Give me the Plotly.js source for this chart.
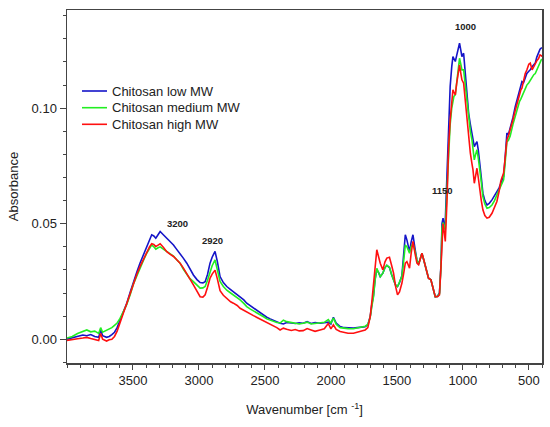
<!DOCTYPE html>
<html>
<head>
<meta charset="utf-8">
<script src="https://cdn.plot.ly/plotly-3.0.1.min.js"></script>
<style>html,body{margin:0;padding:0;background:#fff;}#chart{width:550px;height:427px;}</style>
</head>
<body>
<div id="chart"></div>
<script>
const wavenumber = [4000,3960,3920,3880,3850,3820,3790,3760,3745,3730,3700,3680,3660,3640,3620,3598,3570,3547,3520,3497,3470,3447,3420,3396,3375,3358,3342,3327,3310,3294,3270,3244,3220,3193,3170,3143,3120,3092,3070,3042,3015,2991,2970,2953,2935,2916,2900,2878,2860,2840,2815,2789,2760,2739,2710,2688,2660,2638,2610,2587,2560,2536,2510,2486,2460,2436,2410,2385,2360,2335,2300,2270,2240,2210,2180,2150,2120,2082,2050,2020,2000,1981,1960,1930,1900,1870,1829,1800,1770,1740,1720,1702,1690,1677,1665,1652,1640,1626,1606,1590,1576,1556,1540,1525,1510,1495,1480,1462,1450,1436,1424,1414,1404,1392,1378,1362,1348,1335,1322,1310,1297,1285,1272,1260,1242,1225,1209,1192,1177,1165,1158,1150,1140,1133,1120,1108,1096,1084,1075,1068,1057,1046,1035,1025,1015,1007,994,985,974,965,956,943,931,923,913,903,893,883,873,860,848,833,817,800,779,760,742,725,712,700,691,680,666,655,641,620,603,585,570,560,552,540,527,515,500,489,475,462,451,440,426,415,406,400];

const lowMW = [0.0000,0.0005,0.0010,0.0018,0.0015,0.0020,0.0012,0.0008,0.0040,0.0015,0.0008,0.0012,0.0020,0.0030,0.0050,0.0083,0.0120,0.0156,0.0205,0.0249,0.0292,0.0329,0.0368,0.0401,0.0430,0.0452,0.0447,0.0437,0.0452,0.0466,0.0452,0.0437,0.0422,0.0408,0.0390,0.0372,0.0352,0.0329,0.0305,0.0278,0.0258,0.0245,0.0244,0.0249,0.0280,0.0329,0.0355,0.0380,0.0335,0.0271,0.0245,0.0228,0.0215,0.0206,0.0195,0.0184,0.0170,0.0156,0.0145,0.0134,0.0123,0.0113,0.0104,0.0095,0.0088,0.0081,0.0075,0.0069,0.0066,0.0072,0.0070,0.0068,0.0071,0.0069,0.0076,0.0068,0.0072,0.0069,0.0071,0.0074,0.0066,0.0095,0.0070,0.0055,0.0050,0.0049,0.0048,0.0050,0.0052,0.0054,0.0062,0.0098,0.0150,0.0190,0.0260,0.0300,0.0290,0.0271,0.0286,0.0310,0.0320,0.0310,0.0280,0.0255,0.0235,0.0228,0.0245,0.0275,0.0345,0.0452,0.0430,0.0400,0.0379,0.0420,0.0452,0.0390,0.0343,0.0325,0.0350,0.0372,0.0345,0.0314,0.0285,0.0264,0.0257,0.0220,0.0184,0.0186,0.0200,0.0330,0.0500,0.0524,0.0490,0.0510,0.0700,0.0949,0.1094,0.1180,0.1223,0.1215,0.1202,0.1230,0.1260,0.1281,0.1250,0.1223,0.1238,0.1180,0.1094,0.1030,0.0978,0.0930,0.0892,0.0870,0.0834,0.0845,0.0855,0.0820,0.0776,0.0700,0.0632,0.0600,0.0581,0.0588,0.0603,0.0620,0.0639,0.0655,0.0675,0.0690,0.0704,0.0780,0.0892,0.0885,0.0913,0.0960,0.1007,0.1045,0.1072,0.1100,0.1115,0.1110,0.1130,0.1150,0.1160,0.1166,0.1180,0.1190,0.1195,0.1220,0.1245,0.1255,0.1260,0.1262];

const mediumMW = [0.0005,0.0012,0.0025,0.0035,0.0040,0.0032,0.0035,0.0025,0.0050,0.0030,0.0038,0.0045,0.0050,0.0060,0.0070,0.0090,0.0120,0.0150,0.0195,0.0238,0.0275,0.0310,0.0342,0.0372,0.0393,0.0408,0.0400,0.0390,0.0396,0.0400,0.0390,0.0379,0.0370,0.0360,0.0345,0.0329,0.0305,0.0278,0.0263,0.0249,0.0232,0.0221,0.0222,0.0228,0.0255,0.0293,0.0318,0.0343,0.0300,0.0250,0.0228,0.0212,0.0200,0.0192,0.0180,0.0170,0.0155,0.0141,0.0130,0.0123,0.0113,0.0105,0.0097,0.0088,0.0082,0.0076,0.0072,0.0070,0.0082,0.0076,0.0072,0.0070,0.0066,0.0069,0.0074,0.0066,0.0068,0.0069,0.0073,0.0085,0.0070,0.0091,0.0065,0.0050,0.0047,0.0046,0.0045,0.0048,0.0052,0.0056,0.0064,0.0095,0.0140,0.0184,0.0255,0.0307,0.0290,0.0271,0.0286,0.0310,0.0320,0.0312,0.0280,0.0255,0.0235,0.0228,0.0245,0.0271,0.0330,0.0408,0.0400,0.0385,0.0372,0.0400,0.0416,0.0380,0.0343,0.0325,0.0350,0.0372,0.0345,0.0314,0.0285,0.0264,0.0257,0.0220,0.0184,0.0186,0.0196,0.0320,0.0480,0.0505,0.0480,0.0473,0.0650,0.0800,0.0930,0.1000,0.1036,0.1050,0.1058,0.1120,0.1180,0.1216,0.1190,0.1166,0.1166,0.1120,0.1050,0.0995,0.0949,0.0900,0.0863,0.0830,0.0776,0.0800,0.0820,0.0785,0.0747,0.0680,0.0617,0.0585,0.0567,0.0570,0.0581,0.0600,0.0625,0.0645,0.0661,0.0675,0.0690,0.0760,0.0855,0.0860,0.0880,0.0930,0.0965,0.1000,0.1030,0.1040,0.1050,0.1065,0.1085,0.1100,0.1110,0.1120,0.1135,0.1145,0.1150,0.1165,0.1190,0.1200,0.1209,0.1212];

const highMW = [-0.0005,-0.0003,0.0002,0.0005,0.0008,0.0003,0.0000,-0.0006,0.0025,0.0000,-0.0008,-0.0002,0.0000,0.0012,0.0035,0.0075,0.0118,0.0155,0.0200,0.0245,0.0282,0.0314,0.0348,0.0379,0.0400,0.0413,0.0410,0.0401,0.0408,0.0413,0.0398,0.0379,0.0368,0.0358,0.0345,0.0329,0.0310,0.0286,0.0262,0.0235,0.0205,0.0184,0.0182,0.0192,0.0225,0.0264,0.0282,0.0299,0.0260,0.0210,0.0190,0.0175,0.0162,0.0156,0.0146,0.0134,0.0126,0.0120,0.0110,0.0102,0.0094,0.0087,0.0080,0.0074,0.0066,0.0058,0.0050,0.0040,0.0048,0.0043,0.0038,0.0042,0.0036,0.0037,0.0046,0.0040,0.0034,0.0040,0.0045,0.0068,0.0045,0.0062,0.0042,0.0033,0.0028,0.0026,0.0026,0.0030,0.0036,0.0040,0.0050,0.0098,0.0160,0.0228,0.0320,0.0387,0.0360,0.0329,0.0300,0.0335,0.0351,0.0355,0.0320,0.0286,0.0230,0.0192,0.0205,0.0242,0.0280,0.0329,0.0336,0.0320,0.0307,0.0370,0.0423,0.0370,0.0329,0.0322,0.0350,0.0372,0.0345,0.0314,0.0285,0.0264,0.0257,0.0220,0.0184,0.0184,0.0192,0.0320,0.0430,0.0500,0.0460,0.0423,0.0600,0.0830,0.0949,0.1030,0.1079,0.1070,0.1058,0.1110,0.1160,0.1187,0.1150,0.1123,0.1108,0.1050,0.0978,0.0925,0.0877,0.0805,0.0760,0.0733,0.0675,0.0710,0.0740,0.0700,0.0646,0.0600,0.0560,0.0535,0.0524,0.0528,0.0545,0.0570,0.0596,0.0640,0.0685,0.0705,0.0719,0.0780,0.0863,0.0880,0.0905,0.0950,0.0990,0.1030,0.1060,0.1080,0.1087,0.1120,0.1150,0.1165,0.1190,0.1195,0.1166,0.1180,0.1195,0.1205,0.1215,0.1231,0.1228,0.1223];

const seriesNames = ['Chitosan low MW','Chitosan medium MW','Chitosan high MW'];
const seriesColors = ['#1515c8','#22ee22','#ff1010'];
const peakLabels = ['3200','2920','1150','1000'];
const peakX = [3160,2900,1154,982];
const peakY = [0.0499,0.0426,0.0642,0.1352];
const xTicks = [3500,3000,2500,2000,1500,1000,500];
const yTicks = [0,0.05,0.10];
const yTickText = ['0.00','0.05','0.10'];

const FONT = 'Arial, "Liberation Sans", sans-serif';
const W = 550, H = 427;
const M = {l: 67, r: 8, t: 10, b: 64};
const plotW = W - M.l - M.r, plotH = H - M.t - M.b;
const px2x = p => (p - M.l) / plotW;
const py2y = p => (H - M.b - p) / plotH;

const series = [lowMW, mediumMW, highMW];
const traces = series.map((ys, i) => ({
  x: wavenumber, y: ys, type: 'scatter', mode: 'lines',
  name: seriesNames[i], line: {color: seriesColors[i], width: 1.6}, showlegend: false
}));

const annotations = peakLabels.map((t, i) => ({
  x: peakX[i], y: peakY[i], xref: 'x', yref: 'y', text: '<b>' + t + '</b>',
  showarrow: false, font: {family: FONT, size: 9.5, color: '#222'}
}));

// custom legend (compact spacing like the reference)
const legendRowY = [91, 107.7, 124.3];
const shapes = [];
seriesNames.forEach((n, i) => {
  shapes.push({type: 'line', xref: 'paper', yref: 'paper',
    x0: px2x(82), x1: px2x(107), y0: py2y(legendRowY[i]), y1: py2y(legendRowY[i]),
    line: {color: seriesColors[i], width: 1.6}});
  annotations.push({xref: 'paper', yref: 'paper', x: px2x(110), y: py2y(legendRowY[i]),
    xanchor: 'left', yanchor: 'middle', text: n, showarrow: false,
    font: {family: FONT, size: 13, color: '#222'}});
});

const layout = {
  width: W, height: H,
  margin: M,
  paper_bgcolor: '#fff', plot_bgcolor: '#fff',
  font: {family: FONT, size: 13, color: '#222'},
  showlegend: false,
  xaxis: {
    range: [4000, 400], autorange: false,
    tickmode: 'array', tickvals: xTicks,
    ticks: 'outside', ticklen: 5, tickwidth: 1, tickcolor: '#444',
    showline: true, linecolor: '#444', linewidth: 1.5, mirror: true,
    showgrid: false, zeroline: false,
    minor: {dtick: 100, ticks: 'outside', ticklen: 3, tickcolor: '#444', showgrid: false},
    tickfont: {family: FONT, size: 13, color: '#222'},
    title: {text: 'Wavenumber [cm <sup>-1</sup>]', font: {family: FONT, size: 13, color: '#222'}, standoff: 18}
  },
  yaxis: {
    range: [-0.0103, 0.1425], autorange: false,
    tickmode: 'array', tickvals: yTicks, ticktext: yTickText,
    ticks: 'outside', ticklen: 6, tickwidth: 1, tickcolor: '#444',
    showline: true, linecolor: '#444', linewidth: 1.5, mirror: true,
    showgrid: false, zeroline: false,
    minor: {dtick: 0.01, ticks: 'outside', ticklen: 3, tickcolor: '#444', showgrid: false},
    tickfont: {family: FONT, size: 13, color: '#222'},
    title: {text: 'Absorbance', font: {family: FONT, size: 13, color: '#222'}, standoff: 10}
  },
  shapes: shapes,
  annotations: annotations
};

Plotly.newPlot('chart', traces, layout, {displayModeBar: false, staticPlot: true});
</script>
</body>
</html>
